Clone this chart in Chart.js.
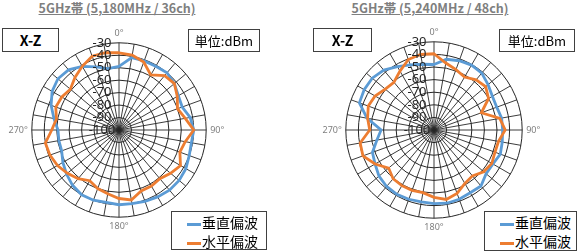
<!DOCTYPE html>
<html lang="ja">
<head>
<meta charset="UTF-8">
<title>X-Z 放射パターン</title>
<script src="https://cdn.jsdelivr.net/npm/chart.js"></script>
<style>
  body {
    margin: 0;
    width: 579px;
    height: 252px;
    position: relative;
    overflow: hidden;
    background: #fff;
    font-family: "Noto Sans CJK JP", sans-serif;
  }
  .title {
    position: absolute;
    top: 0;
    width: 200px;
    text-align: center;
    font-size: 12.5px;
    font-weight: bold;
    line-height: 16px;
    color: #7f7f7f;
    text-decoration: underline;
  }
  .box {
    position: absolute;
    box-sizing: border-box;
    border: 1px solid #404040;
    background: #fff;
    display: flex;
    align-items: center;
    justify-content: center;
    color: #000;
  }
  .plane { font-size: 14px; font-weight: bold; }
  .unit { font-size: 13px; }
  .legend {
    position: absolute;
    box-sizing: border-box;
    border: 1px solid #404040;
    background: #fff;
    font-size: 14px;
    line-height: 19px;
    padding: 1px 0 0 15px;
  }
  .legend span.key {
    display: inline-block;
    width: 14px;
    height: 3px;
    vertical-align: middle;
    margin-right: 1px;
  }
  .chart { position: absolute; }
</style>
</head>
<body>
  <div class="title" style="left:17px">5GHz帯 (5,180MHz / 36ch)</div>
  <div class="title" style="left:330px">5GHz帯 (5,240MHz / 48ch)</div>

  <div class="chart" style="left:6px; top:29px; width:222px; height:204px"><canvas id="left"></canvas></div>
  <div class="chart" style="left:319px; top:28px; width:225px; height:206px"><canvas id="right"></canvas></div>

  <div class="box plane" style="left:2px; top:28px; width:57px; height:24px">X-Z</div>
  <div class="box unit" style="left:188px; top:29px; width:72px; height:23px">単位:dBm</div>
  <div class="box plane" style="left:313px; top:28px; width:59px; height:24px">X-Z</div>
  <div class="box unit" style="left:499px; top:29px; width:76px; height:23px">単位:dBm</div>

  <div class="legend" style="left:171px; top:211px; width:96px; height:39px">
    <div><span class="key" style="background:#5b9bd5"></span>垂直偏波</div>
    <div><span class="key" style="background:#ed7d31"></span>水平偏波</div>
  </div>
  <div class="legend" style="left:484px; top:211px; width:93px; height:40px">
    <div><span class="key" style="background:#5b9bd5"></span>垂直偏波</div>
    <div><span class="key" style="background:#ed7d31"></span>水平偏波</div>
  </div>

<script>
  const angleLabels = ['0°', '10°', '20°', '30°', '40°', '50°', '60°', '70°', '80°',
    '90°', '100°', '110°', '120°', '130°', '140°', '150°', '160°', '170°',
    '180°', '190°', '200°', '210°', '220°', '230°', '240°', '250°', '260°',
    '270°', '280°', '290°', '300°', '310°', '320°', '330°', '340°', '350°'];
  const seriesNames = ['垂直偏波', '水平偏波'];

  // 5,180MHz / 36ch (dBm)
  const vert36 = [-49, -41, -41, -41, -40, -42, -45, -46, -42,
    -40, -41, -40, -38, -37, -37, -38, -39, -40,
    -40, -41, -40, -40, -42, -45, -48, -51, -51,
    -51, -47, -42, -38, -36, -37, -41, -46, -50];
  const horiz36 = [-38, -39, -42, -49, -43, -42, -46, -50, -46,
    -40, -46, -48, -43, -46, -49, -48, -48, -43,
    -45, -48, -50, -53, -49, -46, -43, -41, -40,
    -46, -49, -46, -47, -49, -45, -41, -37, -37];

  // 5,240MHz / 48ch (dBm)
  const vert48 = [-48, -43, -41.5, -40.5, -41, -44, -46.5, -47, -45.5,
    -45.5, -45, -44, -46, -46, -42, -42.5, -41.5, -41,
    -41.5, -42, -41.5, -41, -41.5, -43, -46, -48, -54,
    -58, -46, -37, -36, -36, -38, -42, -45, -47];
  const horiz48 = [-39.5, -46, -49, -51.5, -48, -46.5, -50, -60, -47,
    -43.5, -48, -48.5, -47, -48.5, -52.5, -51, -46.5, -44,
    -46.5, -49.5, -49, -49, -49.5, -53, -46, -40, -40.5,
    -49, -46.5, -44.5, -46, -49.5, -50.5, -46, -40.5, -39];

  const scaleMin = -100;
  const scaleMax = -30;

  // tick numbers sit a little left of the 0° spoke, on top of the lines
  const tickLabels = {
    id: 'tickLabels',
    afterDatasetsDraw(chart) {
      const s = chart.scales.r;
      const ctx = chart.ctx;
      ctx.save();
      ctx.font = '13px "Noto Sans"';
      ctx.fillStyle = '#262626';
      ctx.textAlign = 'center';
      ctx.textBaseline = 'middle';
      s.ticks.forEach(t => {
        const d = s.getDistanceFromCenterForValue(t.value);
        ctx.fillText(String(t.value), s.xCenter - 17, s.yCenter - d);
      });
      ctx.restore();
    }
  };

  function makeChart(id, vert, horiz) {
    return new Chart(document.getElementById(id), {
      type: 'radar',
      data: {
        labels: angleLabels,
        datasets: [{
          label: seriesNames[0],
          data: vert,
          borderColor: '#5b9bd5',
          borderWidth: 2.8,
          pointRadius: 0,
          fill: false,
          order: 2
        }, {
          label: seriesNames[1],
          data: horiz,
          borderColor: '#ed7d31',
          borderWidth: 2.8,
          pointRadius: 0,
          fill: false,
          order: 1
        }]
      },
      options: {
        responsive: true,
        maintainAspectRatio: false,
        animation: false,
        layout: { padding: 0 },
        scales: {
          r: {
            min: scaleMin,
            max: scaleMax,
            ticks: { stepSize: 10, display: false },
            grid: { circular: true, color: '#262626', lineWidth: 1 },
            angleLines: { color: '#262626', lineWidth: 0.9 },
            pointLabels: {
              callback: (label, i) => (i % 9 === 0 ? label : ''),
              color: '#7f7f7f',
              font: { size: 9, family: '"Noto Sans"' },
              padding: 4
            }
          }
        },
        plugins: {
          legend: { display: false },
          tooltip: { enabled: false }
        }
      },
      plugins: [tickLabels]
    });
  }

  makeChart('left', vert36, horiz36);
  makeChart('right', vert48, horiz48);
</script>
</body>
</html>
